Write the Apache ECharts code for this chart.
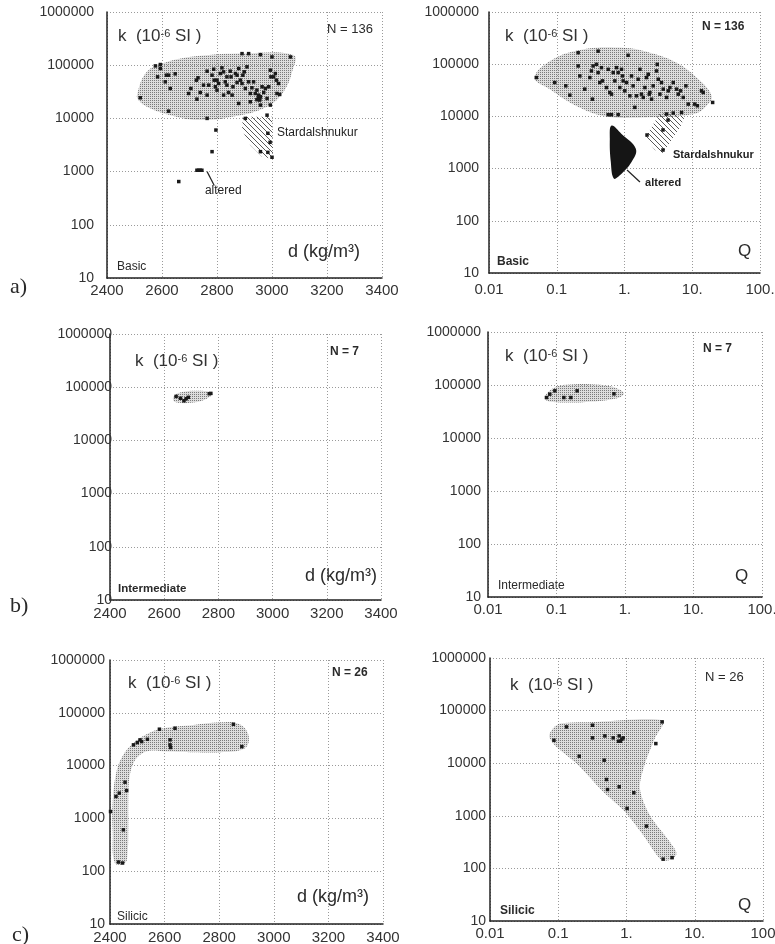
<!DOCTYPE html>
<html>
<head>
<meta charset="utf-8">
<script src="https://cdn.jsdelivr.net/npm/echarts@6/dist/echarts.min.js"></script>
<style>
  html, body { margin: 0; padding: 0; background: #fff; }
  #chart { width: 775px; height: 944px; }
</style>
</head>
<body>
<div id="chart"></div>
<script>
// ---------- tick labels ----------
const densityTicks = [2400, 2600, 2800, 3000, 3200, 3400];
const kTickLabels = ['10', '100', '1000', '10000', '100000', '1000000'];
const qTickLabelsAB = ['0.01', '0.1', '1.', '10.', '100.'];
const qTickLabelsC = ['0.01', '0.1', '1.', '10.', '100'];

// ---------- a) Basic : k vs density ----------
const basicDensityPoints = [
  [2891,165000],[2915,165000],[2958,158000],[3000,143000],[3067,143000],
  [2576,97000],[2594,103000],[2594,86600],[2584,60400],[2616,64900],[2624,64900],[2648,68800],
  [2612,48700],[2630,36500],[2521,24400],[2624,13700],
  [2725,52300],[2731,57900],[2697,29400],[2705,36500],[2739,30700],[2727,23000],[2764,77200],
  [2770,42200],[2788,84100],[2790,52300],[2800,52300],[2794,39300],[2806,45300],[2812,69800],
  [2818,89100],[2824,75000],[2830,48700],[2836,42200],[2842,30700],[2848,77200],[2851,60400],
  [2858,39300],[2867,69800],[2873,64900],[2873,47300],[2879,86600],[2885,52300],[2891,45300],
  [2894,64900],[2899,75000],[2903,36500],[2909,93100],[2915,48700],[2921,29400],[2927,37600],
  [2933,48700],[2939,29400],[2945,34000],[2951,27400],[2955,22100],[2958,25500],[2964,39300],
  [2970,30700],[2976,36500],[2982,23700],[2988,39300],[2994,80600],[2996,60400],[3006,60400],
  [3012,69800],[3016,52300],[3018,29400],[3024,45300],[3028,28200],[2994,17800],[2958,17800],
  [2921,20500],[2879,19100],[2855,27400],[2824,27400],[2800,34000],[2764,27400],[2751,42200],
  [2836,60400],[2782,64900],[2950,24000],[2955,23000],[2945,22500],
  [2764,10000],[2796,6040],[2782,2370],[2727,1060],[2733,1060],[2739,1060],[2745,1060],[2661,650]
];
const basicDensityStardalPoints = [
  [2903,10000],[2982,11500],[2985,5250],[2993,3550],[2985,2300],[3000,1860],[2958,2370]
];
const basicDensityField = [
  [2509,27500],[2545,75000],[2618,115000],[2739,150000],[2897,166000],[3079,154000],
  [3073,75000],[3042,31600],[2982,16600],[2860,10800],[2739,9300],[2630,11500],
  [2545,16600],[2515,21900]
];
const basicDensityStardal = [
  [2894,10700],[3000,10700],[3004,1730],[2964,1900],[2921,3160],[2891,6030]
];
const basicDensityAlteredLabel = [2756, 429];
const basicDensityAlteredLeader = [[2764, 1000], [2790, 550]];
const basicDensityStardalLabel = [3018, 5480];

// ---------- a) Basic : k vs Q ----------
const basicQPoints = [
  [0.050,55500],[0.0933,44500],[0.136,38500],[0.156,25500],[0.207,92500],[0.219,59600],
  [0.259,33300],[0.308,55500],[0.325,74300],[0.344,92500],[0.336,21400],[0.386,99300],
  [0.408,69000],[0.432,44500],[0.457,85900],[0.473,47900],[0.542,35700],[0.574,79800],
  [0.607,28700],[0.643,26700],[0.681,69000],[0.720,47900],[0.762,85900],[0.806,69000],
  [0.853,35700],[0.903,79800],[0.933,59600],[0.955,47900],[1.01,30900],[1.07,44500],
  [1.13,148000],[1.20,24800],[1.27,59600],[1.34,38500],[1.42,14900],[1.50,24800],
  [1.59,51500],[1.69,79800],[1.78,26700],[1.89,23100],[2.00,35700],[2.11,55500],
  [2.24,64100],[2.32,26700],[2.37,28700],[2.51,21400],[2.65,38500],[2.97,74300],
  [3.04,99300],[3.15,51500],[3.33,26700],[3.52,44500],[3.73,33300],[4.18,23100],
  [4.42,30900],[4.68,35700],[5.24,44500],[5.87,33300],[6.21,26700],[6.72,30900],
  [7.36,23100],[8.06,38500],[8.73,17200],[10.9,17200],[11.9,16000],[13.7,30900],
  [14.5,28700],[20.0,18500],[0.207,166000],[0.408,178000],
  [0.574,10800],[0.643,10800],[0.806,10800],[4.18,11100],[5.24,11600],[6.96,11900]
];
const basicQStardalPoints = [[2.15,4400],[3.70,5500],[3.70,2270],[4.39,8500]];
const basicQField = [
  [0.047,55500],[0.088,124000],[0.245,192000],[0.955,206000],[2.37,166000],[5.87,107000],
  [11.6,55500],[19.3,24800],[16.2,15900],[10.3,11100],[1.89,9550],[0.54,10000],
  [0.195,15900],[0.079,33100]
];
const basicQStardal = [[2.01,3860],[3.34,11600],[7.82,10200],[6.59,6030],[3.70,2000],[2.82,2270]];
const basicQAltered = [
  [0.643,6670],[0.904,4620],[1.47,2400],[1.27,1340],[0.853,743],[0.695,645],[0.628,1340],[0.607,3720]
];
const basicQAlteredLabel = [2.01, 530];
const basicQAlteredLeader = [[1.09, 940], [1.69, 553]];
const basicQStardalLabel = [5.2, 1820];

// ---------- b) Intermediate ----------
const intermediateDensityPoints = [
  [2644,67100],[2673,55600],[2681,60700],[2689,64500],[2766,75400],[2772,76500],[2660,62000]
];
const intermediateDensityField = [
  [2634,67100],[2665,81000],[2732,85800],[2779,77600],[2757,60700],[2708,51800],[2640,52500]
];
const intermediateQPoints = [
  [0.0715,58000],[0.0798,67100],[0.0946,77600],[0.128,58000],[0.162,58000],[0.20,77600],[0.69,68200]
];
const intermediateQField = [
  [0.0675,60700],[0.0893,87100],[0.14,101000],[0.43,101000],[0.755,87100],[0.966,68200],
  [0.714,54800],[0.245,47400],[0.10,47400],[0.0715,50900]
];

// ---------- c) Silicic ----------
const silicicDensityPoints = [
  [2431,149],[2446,143],[2449,608],[2422,2600],[2434,3010],[2455,4850],[2461,3370],
  [2486,24700],[2500,27300],[2510,30700],[2516,28500],[2537,31500],[2581,48900],
  [2638,51000],[2620,30700],[2620,24700],[2622,22000],[2852,60700],[2883,22900],[2402,1350]
];
const silicicDensityField = [
  [2418,143],[2410,566],[2410,2090],[2424,7720],[2449,16000],[2486,26500],[2534,39300],
  [2596,51000],[2706,58900],[2803,66200],[2865,63400],[2901,45400],[2907,26500],
  [2883,19900],[2803,17900],[2706,17900],[2608,18500],[2541,19000],[2510,16000],
  [2486,11100],[2471,5780],[2467,2090],[2467,655],[2464,205],[2455,143]
];
const silicicQPoints = [
  [0.0865,27300],[0.132,49000],[0.203,13600],[0.318,52700],[0.318,30300],[0.482,33000],
  [0.638,30300],[0.471,11400],[0.509,4900],[0.527,3160],[0.782,3560],[0.782,33000],
  [0.817,26200],[0.855,28600],[0.894,30300],[0.764,26200],[1.28,2740],[1.02,1380],
  [1.96,637],[3.33,61000],[2.69,23600],[3.44,150],[4.66,160]
];
const silicicQField = [
  [0.0798,42400],[0.106,56600],[0.364,61000],[3.44,64600],[2.6,29400],[1.85,9440],
  [1.57,3300],[2.19,1030],[4.3,321],[5.4,193],[4.56,150],[3.25,144],[1.75,430],
  [0.946,1190],[0.456,2860],[0.185,9860],[0.0946,20400],[0.0738,31600]
];

// ---------- drawing ----------
const FONT = '"Liberation Sans", Arial, sans-serif';
const INK = '#222';

// fine dot screen used for the sample fields
function makeStipple() {
  const c = document.createElement('canvas');
  c.width = 2; c.height = 2;
  const g = c.getContext('2d');
  g.fillStyle = 'rgba(150,150,150,0.32)';
  g.fillRect(0, 0, 2, 2);
  g.clearRect(0, 0, 1, 1);
  g.fillStyle = 'rgba(50,50,50,0.65)';
  g.fillRect(0, 0, 1, 1);
  return { image: c, repeat: 'repeat' };
}
// diagonal hatching for the Stardalshnukur group
function makeHatch() {
  const n = 5;
  const c = document.createElement('canvas');
  c.width = n; c.height = n;
  const g = c.getContext('2d');
  g.fillStyle = 'rgba(60,60,60,0.85)';
  for (let i = 0; i < n; i++) g.fillRect(i, i, 1, 1);
  return { image: c, repeat: 'repeat' };
}
const STIPPLE = makeStipple();
const HATCH = makeHatch();

const layout = [
  { grid: { left: 107, top: 12,  width: 275, height: 266 }, x: 'd', yMargin: 13, xMargin: 5 },
  { grid: { left: 489, top: 12,  width: 271, height: 261 }, x: 'q', yMargin: 10, xMargin: 9, qLabels: qTickLabelsAB },
  { grid: { left: 110, top: 334, width: 271, height: 266 }, x: 'd', yMargin: -2, xMargin: 6 },
  { grid: { left: 488, top: 332, width: 274, height: 265 }, x: 'q', yMargin: 7,  xMargin: 5, qLabels: qTickLabelsAB },
  { grid: { left: 110, top: 660, width: 273, height: 264 }, x: 'd', yMargin: 5,  xMargin: 6 },
  { grid: { left: 490, top: 658, width: 273, height: 263 }, x: 'q', yMargin: 4,  xMargin: 5, qLabels: qTickLabelsC }
];

const splitStyle = { show: true, lineStyle: { color: '#9a9a9a', width: 1, type: [1, 2] } };
const axisLineStyle = { show: true, onZero: false, lineStyle: { color: INK, width: 1.5 } };

const grids = layout.map(p => Object.assign({ outerBoundsMode: 'none', containLabel: false }, p.grid));
const xAxes = layout.map((p, i) => {
  const base = {
    gridIndex: i, axisLine: axisLineStyle, axisTick: { show: false }, splitLine: splitStyle,
    axisLabel: { margin: p.xMargin, color: '#333', fontFamily: FONT, fontSize: 15, showMinLabel: true, showMaxLabel: true }
  };
  if (p.x === 'd') {
    base.type = 'value'; base.min = densityTicks[0]; base.max = densityTicks[densityTicks.length - 1];
    base.interval = 200;
    base.axisLabel.formatter = v => String(Math.round(v));
  } else {
    base.type = 'log'; base.logBase = 10; base.min = 0.01; base.max = 100;
    const labels = p.qLabels;
    base.axisLabel.formatter = v => labels[Math.round(Math.log10(v)) + 2] || '';
  }
  return base;
});
const yAxes = layout.map((p, i) => ({
  gridIndex: i, type: 'log', logBase: 10, min: 10, max: 1000000,
  axisLine: axisLineStyle, axisTick: { show: false }, splitLine: splitStyle,
  axisLabel: {
    margin: p.yMargin, color: '#333', fontFamily: FONT, fontSize: 14, showMinLabel: true, showMaxLabel: true,
    formatter: v => kTickLabels[Math.round(Math.log10(v)) - 1] || ''
  }
}));

function region(idx, verts, fill, smooth, z) {
  return {
    type: 'custom', xAxisIndex: idx, yAxisIndex: idx, data: [verts[0]], silent: true, z: z || 1,
    renderItem: (params, api) => ({
      type: 'polygon',
      shape: { points: verts.map(v => api.coord(v)), smooth: smooth },
      style: { fill: fill, stroke: null }
    })
  };
}
function dots(idx, pts) {
  return {
    type: 'scatter', xAxisIndex: idx, yAxisIndex: idx, data: pts, silent: true, z: 3,
    symbol: 'rect', symbolSize: 3.5, itemStyle: { color: '#1a1a1a', opacity: 1 }
  };
}
function note(idx, text, at, font, leader) {
  return {
    type: 'custom', xAxisIndex: idx, yAxisIndex: idx, data: [at], silent: true, z: 4,
    renderItem: (params, api) => {
      const p = api.coord(at);
      const children = [{
        type: 'text', x: p[0], y: p[1],
        style: { text: text, font: font, fill: INK, align: 'left', verticalAlign: 'middle', textAlign: 'left', textVerticalAlign: 'middle' }
      }];
      if (leader) {
        const a = api.coord(leader[0]), b = api.coord(leader[1]);
        children.push({ type: 'line', shape: { x1: a[0], y1: a[1], x2: b[0], y2: b[1] }, style: { stroke: INK, lineWidth: 1.2 } });
      }
      return { type: 'group', children: children };
    }
  };
}

const series = [
  region(0, basicDensityField, STIPPLE, 0.4),
  region(0, basicDensityStardal, HATCH, 0),
  dots(0, basicDensityPoints),
  dots(0, basicDensityStardalPoints),
  note(0, 'altered', basicDensityAlteredLabel, '12px ' + FONT, basicDensityAlteredLeader),
  note(0, 'Stardalshnukur', basicDensityStardalLabel, '12px ' + FONT),

  region(1, basicQField, STIPPLE, 0.4),
  region(1, basicQStardal, HATCH, 0),
  region(1, basicQAltered, '#151515', 0.4, 2),
  dots(1, basicQPoints),
  dots(1, basicQStardalPoints),
  note(1, 'altered', basicQAlteredLabel, 'bold 11px ' + FONT, basicQAlteredLeader),
  note(1, 'Stardalshnukur', basicQStardalLabel, 'bold 11px ' + FONT),

  region(2, intermediateDensityField, STIPPLE, 0.4),
  dots(2, intermediateDensityPoints),

  region(3, intermediateQField, STIPPLE, 0.4),
  dots(3, intermediateQPoints),

  region(4, silicicDensityField, STIPPLE, 0.4),
  dots(4, silicicDensityPoints),

  region(5, silicicQField, STIPPLE, 0.3),
  dots(5, silicicQPoints)
];

// panel texts (placed relative to the canvas)
function kTitle(left, top) {
  return {
    type: 'text', left: left, top: top, silent: true,
    style: {
      text: '{a|k  (10}{s|-6}{a| SI )}',
      rich: {
        a: { fontFamily: FONT, fontSize: 17, fill: '#333', color: '#333' },
        s: { fontFamily: FONT, fontSize: 11, fill: '#333', color: '#333', verticalAlign: 'top' }
      }
    }
  };
}
function label(text, left, top, font, family) {
  return {
    type: 'text', left: left, top: top, silent: true,
    style: { text: text, font: font + ' ' + (family || FONT), fill: '#2a2a2a' }
  };
}
const SERIF = '"Liberation Serif", "Times New Roman", serif';
const graphic = [
  kTitle(118, 28), label('N = 136', 327, 23, '13px'), label('d (kg/m\u00B3)', 288, 243, '18px'), label('Basic', 117, 261, '12px'),
  kTitle(505, 28), label('N = 136', 702, 21, 'bold 12px'), label('Q', 738, 243, '17px'), label('Basic', 497, 256, 'bold 12px'),
  kTitle(135, 353), label('N = 7', 330, 346, 'bold 12px'), label('d (kg/m\u00B3)', 305, 567, '18px'), label('Intermediate', 118, 583, 'bold 11.5px'),
  kTitle(505, 348), label('N = 7', 703, 343, 'bold 12px'), label('Q', 735, 568, '17px'), label('Intermediate', 498, 580, '12px'),
  kTitle(128, 675), label('N = 26', 332, 667, 'bold 12px'), label('d (kg/m\u00B3)', 297, 888, '18px'), label('Silicic', 117, 911, '12px'),
  kTitle(510, 677), label('N = 26', 705, 671, '13px'), label('Q', 738, 897, '17px'), label('Silicic', 500, 905, 'bold 12px'),
  label('a)', 10, 276, '22px', SERIF),
  label('b)', 10, 595, '22px', SERIF),
  label('c)', 12, 924, '22px', SERIF)
];

const chart = echarts.init(document.getElementById('chart'), null, { renderer: 'canvas' });
chart.setOption({
  animation: false,
  backgroundColor: '#ffffff',
  grid: grids,
  xAxis: xAxes,
  yAxis: yAxes,
  series: series,
  graphic: graphic
});
</script>
</body>
</html>
